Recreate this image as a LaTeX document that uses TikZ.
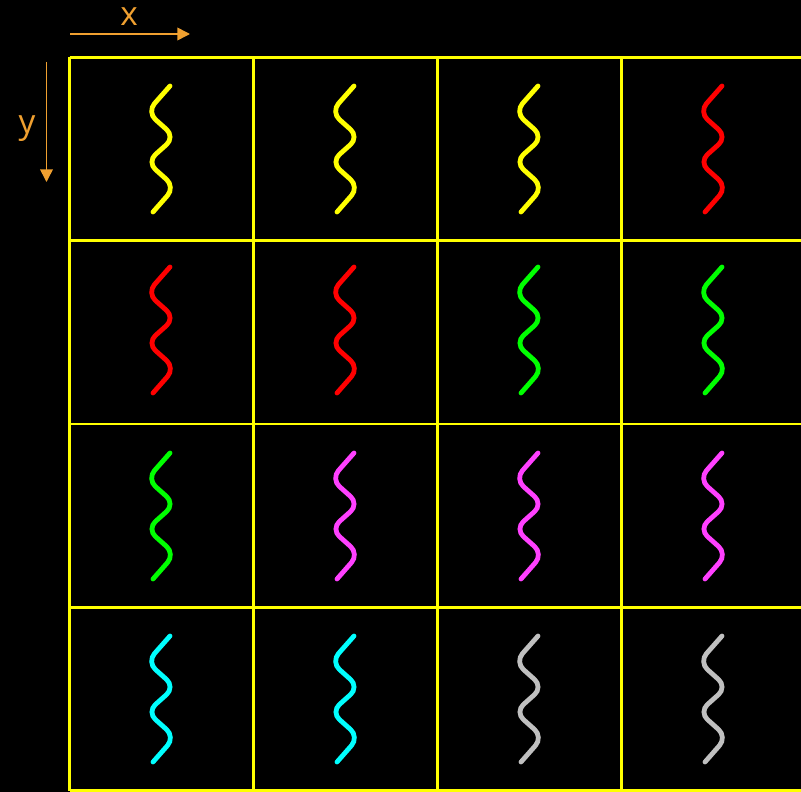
\documentclass[tikz,border=0pt]{standalone}
\usepackage{fontspec}
\setmainfont{Open Sans}
\usetikzlibrary{arrows.meta}
\definecolor{gridyel}{HTML}{FFFF00}
\definecolor{axorange}{HTML}{F0A030}
\definecolor{sqyel}{HTML}{FFFF00}
\definecolor{sqred}{HTML}{FF0000}
\definecolor{sqgreen}{HTML}{00FF00}
\definecolor{sqmag}{HTML}{FF40FF}
\definecolor{sqcyan}{HTML}{00FFFF}
\definecolor{sqgray}{HTML}{C0C0C0}
\tikzset{
  gridline/.style={draw=gridyel, line width=1.8pt},
  axis/.style={draw=axorange, line width=1.2pt, -{Triangle[length=9.5pt,width=9.5pt]}},
  axlabel/.style={text=axorange, font=\fontsize{25}{30}\selectfont, inner sep=0pt},
  squig/.style={line width=3.6pt, line cap=round, rounded corners=8.5pt},
  pics/wave/.style={code={
    \draw[squig, #1] (9,-63) -- (-14,-37) -- (14,-12) -- (-14,13) -- (14,38) -- (-8,63);
  }}
}
\begin{document}
\begin{tikzpicture}[x=0.75pt, y=-0.75pt]
\fill[black] (0,0) rectangle (801,792);
\useasboundingbox (0,0) rectangle (801,792);
% grid
\foreach \gx in {69.5,253.5,437.5,621.5}
  \draw[gridline] (\gx,57.5) -- (\gx,791);
\foreach \gy in {57.5,240.5,424,607.5,790.5}
  \draw[gridline] (69.5,\gy) -- (801,\gy);
% axes
\coordinate (xs) at (70,34);
\coordinate (xe) at (190,34);
\coordinate (ys) at (46.5,62);
\coordinate (ye) at (46.5,182);
\draw[axis] (xs) -- (xe);
\draw[axis] (ys) -- (ye);
\node[axlabel] (xl) at (129,16.5) {x};
\node[axlabel] (yl) at (27,129) {y};
% waves
\foreach \c/\r/\col in {
  161/149/sqyel, 345/149/sqyel, 529/149/sqyel, 713/149/sqred,
  161/330/sqred, 345/330/sqred, 529/330/sqgreen, 713/330/sqgreen,
  161/516/sqgreen, 345/516/sqmag, 529/516/sqmag, 713/516/sqmag,
  161/699/sqcyan, 345/699/sqcyan, 529/699/sqgray, 713/699/sqgray}
  \pic at (\c,\r) {wave=\col};
\end{tikzpicture}
\end{document}
